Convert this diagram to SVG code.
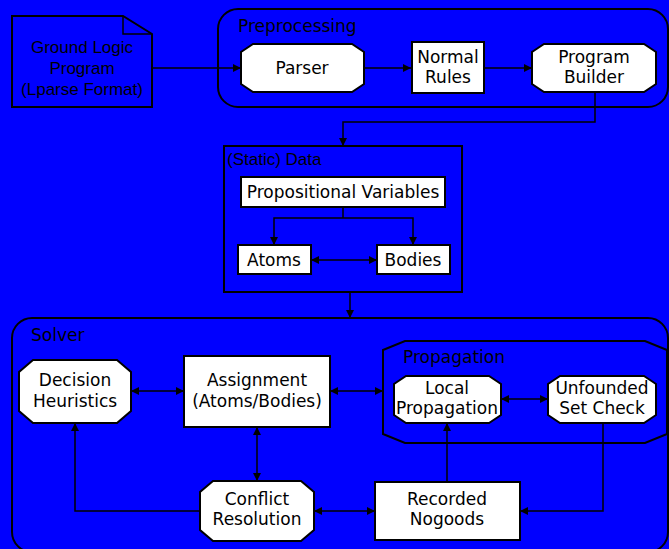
<svg xmlns="http://www.w3.org/2000/svg" width="669" height="549" viewBox="0 0 669 549">
<defs>
<marker id="ah" viewBox="0 0 10 10" refX="10" refY="5" markerWidth="9" markerHeight="8" markerUnits="userSpaceOnUse" orient="auto-start-reverse">
<path d="M0,0 L10,5 L0,10 Z" fill="#000"/>
</marker>
</defs>
<style>
.bg{fill:#0000FF}
.c{fill:none;stroke:#000;stroke-width:2}
.n{fill:#fff;stroke:#000;stroke-width:2}
.d{fill:#0000FF;stroke:#000;stroke-width:2}
.e{fill:none;stroke:#000;stroke-width:1.5}
.a{marker-end:url(#ah)}
.b{marker-start:url(#ah);marker-end:url(#ah)}
text{font-family:"DejaVu Sans",Verdana,sans-serif;font-size:17px;fill:#000}
.t{text-anchor:middle}
.l{font-family:"Liberation Sans",Arial,sans-serif}
</style>
<rect class="bg" x="0" y="0" width="669" height="549"/>
<g id="preprocessing">
<rect class="c" x="218" y="9" width="450" height="98" rx="20"/>
<text x="238" y="32">Preprocessing</text>
</g>
<g id="data">
<rect class="c" x="224" y="146" width="238" height="146"/>
<text class="l" x="227" y="165">(Static) Data</text>
</g>
<g id="solver">
<rect class="c" x="12" y="318" width="656" height="234" rx="20"/>
<text x="31" y="341">Solver</text>
</g>
<g id="propagation">
<path class="c" d="M405,341 L645,341 L667,350 L667,434 L645,443 L405,443 L383,434 L383,350 Z"/>
<text x="403" y="363">Propagation</text>
</g>
<g id="connectors">
<path class="e a" d="M152,68 L241,68"/>
<path class="e a" d="M364,68 L411,68"/>
<path class="e a" d="M484,68 L532,68"/>
<path class="e a" d="M595,92 L595,122 L343,122 L343,146"/>
<path class="e" d="M343,207 L343,218"/>
<path class="e a" d="M343,218 L274,218 L274,245"/>
<path class="e a" d="M343,218 L413,218 L413,245"/>
<path class="e b" d="M311,260 L377,260"/>
<path class="e a" d="M350,292 L350,318"/>
<path class="e b" d="M131,391 L184,391"/>
<path class="e b" d="M330,391 L383,391"/>
<path class="e b" d="M501,399 L548,399"/>
<path class="e b" d="M257,427 L257,481"/>
<path class="e b" d="M314,511 L375,511"/>
<path class="e a" d="M447,482 L447,423"/>
<path class="e a" d="M603,423 L603,511 L520,511"/>
<path class="e a" d="M200,511 L75,511 L75,423"/>
</g>
<g id="ground-logic-program">
<path class="d" d="M12,16 L123,16 L152,34 L152,107 L12,107 Z"/>
<path class="e" d="M123,16 L123,34 L152,34"/>
<text class="t l" x="82" y="53">Ground Logic</text>
<text class="t l" x="82" y="74">Program</text>
<text class="t l" x="82" y="95">(Lparse Format)</text>
</g>
<g id="parser">
<path class="n" d="M253,44 L352,44 L364,52 L364,84 L352,92 L253,92 L241,84 L241,52 Z"/>
<text class="t" x="302" y="74">Parser</text>
</g>
<g id="normal-rules">
<rect class="n" x="412" y="42" width="72" height="51"/>
<text class="t" x="448" y="63">Normal</text>
<text class="t" x="448" y="83">Rules</text>
</g>
<g id="program-builder">
<path class="n" d="M544,44 L644,44 L656,52 L656,84 L644,92 L544,92 L532,84 L532,52 Z"/>
<text class="t" x="594" y="63">Program</text>
<text class="t" x="594" y="83">Builder</text>
</g>
<g id="propositional-variables">
<rect class="n" x="241" y="177" width="204" height="30"/>
<text class="t" x="343" y="198">Propositional Variables</text>
</g>
<g id="atoms">
<rect class="n" x="238" y="245" width="73" height="29"/>
<text class="t" x="274" y="266">Atoms</text>
</g>
<g id="bodies">
<rect class="n" x="377" y="245" width="73" height="29"/>
<text class="t" x="413" y="266">Bodies</text>
</g>
<g id="decision-heuristics">
<path class="n" d="M33,360 L117,360 L131,372 L131,411 L117,423 L33,423 L19,411 L19,372 Z"/>
<text class="t" x="75" y="386">Decision</text>
<text class="t" x="75" y="407">Heuristics</text>
</g>
<g id="assignment">
<rect class="n" x="184" y="356" width="146" height="71"/>
<text class="t" x="257" y="386">Assignment</text>
<text class="t" x="257" y="407">(Atoms/Bodies)</text>
</g>
<g id="local-propagation">
<path class="n" d="M406,376 L489,376 L501,384 L501,415 L489,423 L406,423 L394,415 L394,384 Z"/>
<text class="t" x="447" y="394">Local</text>
<text class="t" x="447" y="414">Propagation</text>
</g>
<g id="unfounded-set-check">
<path class="n" d="M560,376 L644,376 L656,384 L656,415 L644,423 L560,423 L548,415 L548,384 Z"/>
<text class="t" x="602" y="394">Unfounded</text>
<text class="t" x="602" y="414">Set Check</text>
</g>
<g id="conflict-resolution">
<path class="n" d="M213,481 L301,481 L314,492 L314,530 L301,541 L213,541 L200,530 L200,492 Z"/>
<text class="t" x="257" y="505">Conflict</text>
<text class="t" x="257" y="525">Resolution</text>
</g>
<g id="recorded-nogoods">
<rect class="n" x="375" y="482" width="145" height="58"/>
<text class="t" x="447" y="505">Recorded</text>
<text class="t" x="447" y="525">Nogoods</text>
</g>
</svg>
